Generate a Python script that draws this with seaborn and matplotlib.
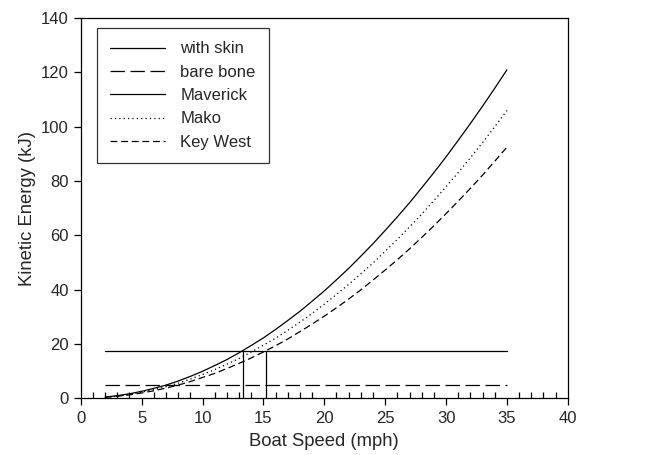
import numpy as np
import pandas as pd
import matplotlib
matplotlib.use("Agg")
import matplotlib.pyplot as plt
import seaborn as sns
from matplotlib.ticker import MultipleLocator

# boat speed (mph)
speed = [2, 3, 4, 5, 6, 7, 8, 9, 10, 11, 12, 13, 14, 15, 16, 17, 18,
         19, 20, 21, 22, 23, 24, 25, 26, 27, 28, 29, 30, 31, 32, 33, 34, 35]

# kinetic energy (kJ)
maverick = [0.4, 0.9, 1.6, 2.5, 3.6, 4.8, 6.3, 8.0, 9.9, 12.0, 14.2, 16.7,
            19.4, 22.2, 25.3, 28.6, 32.0, 35.7, 39.5, 43.6, 47.8, 52.3, 56.9,
            61.8, 66.8, 72.0, 77.5, 83.1, 88.9, 95.0, 101.2, 107.6, 114.2, 121.0]
mako = [0.35, 0.8, 1.4, 2.2, 3.1, 4.2, 5.5, 7.0, 8.7, 10.5, 12.5, 14.6,
        17.0, 19.5, 22.1, 25.0, 28.0, 31.2, 34.6, 38.2, 41.9, 45.8, 49.8,
        54.1, 58.5, 63.1, 67.8, 72.8, 77.9, 83.1, 88.6, 94.2, 100.0, 106.0]
key_west = [0.3, 0.7, 1.2, 1.9, 2.7, 3.7, 4.8, 6.1, 7.6, 9.1, 10.9, 12.8,
            14.8, 17.0, 19.3, 21.8, 24.5, 27.3, 30.2, 33.3, 36.5, 39.9, 43.5,
            47.2, 51.0, 55.0, 59.2, 63.5, 68.0, 72.6, 77.3, 82.2, 87.3, 92.5]

# thresholds (kJ) and where each boat crosses "with skin"
with_skin = 17.5
bare_bone = 5.0
cross_speeds = [13.3, 15.2]

sns.set_theme(style="ticks")
plt.rcParams['font.family'] = ['Liberation Sans', 'DejaVu Sans']

fig, ax = plt.subplots(figsize=(6.46, 4.55), dpi=100)
fig.subplots_adjust(left=0.125, right=0.879, bottom=0.125, top=0.96)

x_rng = [speed[0], speed[-1]]
lw = 0.9
sns.lineplot(x=x_rng, y=[with_skin, with_skin], ax=ax, color="black", lw=lw,
             label="with skin")
sns.lineplot(x=x_rng, y=[bare_bone, bare_bone], ax=ax, color="black", lw=lw,
             label="bare bone")
ax.lines[-1].set_dashes([11.5, 4.5])
sns.lineplot(x=speed, y=maverick, ax=ax, color="black", lw=lw, label="Maverick")
sns.lineplot(x=speed, y=mako, ax=ax, color="black", lw=lw, label="Mako")
ax.lines[-1].set_dashes([1, 2.5])
sns.lineplot(x=speed, y=key_west, ax=ax, color="black", lw=lw, label="Key West")
ax.lines[-1].set_dashes([5.5, 3])

ax.vlines(cross_speeds, 0, with_skin, color="black", lw=lw)

ax.set_xlim(0, 40)
ax.set_ylim(0, 140)
ax.xaxis.set_major_locator(MultipleLocator(5))
ax.xaxis.set_minor_locator(MultipleLocator(1))
ax.yaxis.set_major_locator(MultipleLocator(20))
ax.tick_params(axis="x", which="major", direction="out", length=5, width=0.9,
               labelsize=12, color="black", pad=4)
ax.tick_params(axis="x", which="minor", direction="in", length=4, width=0.9,
               color="black")
ax.tick_params(axis="y", which="major", direction="out", length=5, width=0.9,
               labelsize=12, color="black")
for s in ax.spines.values():
    s.set_linewidth(0.9)
    s.set_color("black")

ax.set_xlabel("Boat Speed (mph)", fontsize=13.3, labelpad=5)
ax.set_ylabel("Kinetic Energy (kJ)", fontsize=13.3, labelpad=4)

leg = ax.legend(loc="upper left", bbox_to_anchor=(0.033, 0.974), fontsize=12,
                handlelength=3.3, frameon=True, fancybox=False, borderpad=0.8,
                labelspacing=0.5, handletextpad=0.9, borderaxespad=0)
leg.get_frame().set_edgecolor("black")
leg.get_frame().set_linewidth(0.9)

fig.savefig("out.png", dpi=100)
